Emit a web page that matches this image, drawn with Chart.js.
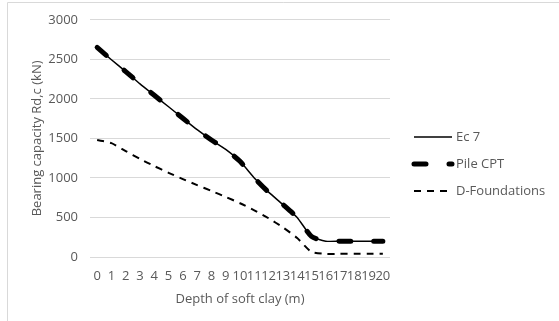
<!DOCTYPE html>
<html>
<head>
<meta charset="utf-8">
<script src="https://cdn.jsdelivr.net/npm/chart.js@4.4.0/dist/chart.umd.min.js"></script>
<style>
  html, body { margin: 0; padding: 0; background: #fff; }
  .chart-box { position: relative; width: 559px; height: 321px; }
</style>
</head>
<body>
<div class="chart-box"><canvas id="capacityChart"></canvas></div>
<script>
// depth of soft clay layer (m)
var depths = ['0', '1', '2', '3', '4', '5', '6', '7', '8', '9', '10',
  '11', '12', '13', '14', '15', '16', '17', '18', '19', '20'];

// bearing capacity Rd,c (kN)
var ec7 = [2650, 2495, 2345, 2190, 2045, 1900, 1755, 1610, 1480, 1360, 1210,
  1000, 820, 665, 500, 260, 200, 200, 200, 200, 200];
var pileCpt = [2650, 2495, 2345, 2190, 2045, 1900, 1755, 1610, 1480, 1360, 1210,
  1000, 820, 665, 500, 260, 200, 200, 200, 200, 200];
var dFoundations = [1480, 1440, 1340, 1240, 1150, 1065, 985, 910, 835, 760, 680,
  590, 490, 375, 240, 65, 40, 40, 40, 40, 40];

var yMin = 0;
var yMax = 3000;
var yStep = 500;

var textGray = '#595959';
var gridGray = '#d9d9d9';

Chart.defaults.font.family = "'Open Sans', sans-serif";
Chart.defaults.font.size = 13;
Chart.defaults.color = textGray;

// thin frame round the chart
var frame = {
  id: 'frame',
  beforeDraw: function (chart) {
    var ctx = chart.ctx;
    ctx.save();
    ctx.strokeStyle = gridGray;
    ctx.lineWidth = 1;
    ctx.beginPath();
    ctx.moveTo(7.5, chart.height);
    ctx.lineTo(7.5, 2.5);
    ctx.lineTo(chart.width, 2.5);
    ctx.stroke();
    ctx.restore();
  }
};

// legend to the right, line sample then label
var sideLegend = {
  id: 'sideLegend',
  afterDraw: function (chart) {
    var ctx = chart.ctx;
    var x0 = chart.chartArea.right + 24;
    chart.data.datasets.forEach(function (ds, i) {
      var y = 137 + i * 27;
      ctx.save();
      ctx.strokeStyle = ds.borderColor;
      ctx.lineWidth = ds.borderWidth;
      ctx.lineCap = ds.borderCapStyle || 'butt';
      ctx.setLineDash(ds.borderDash || []);
      ctx.beginPath();
      ctx.moveTo(x0, y);
      ctx.lineTo(x0 + 38, y);
      ctx.stroke();
      ctx.restore();
      ctx.save();
      ctx.fillStyle = textGray;
      ctx.font = "13px 'Open Sans'";
      ctx.textBaseline = 'middle';
      ctx.fillText(ds.label, x0 + 42, y);
      ctx.restore();
    });
  }
};

var config = {
  type: 'line',
  data: {
    labels: depths,
    datasets: [{
      label: 'Ec 7',
      data: ec7,
      borderColor: '#000',
      borderWidth: 1.5,
      pointRadius: 0,
      tension: 0.2
    }, {
      label: 'Pile CPT',
      data: pileCpt,
      borderColor: '#000',
      borderWidth: 5,
      borderDash: [12, 23],
      borderCapStyle: 'round',
      pointRadius: 0,
      tension: 0.2
    }, {
      label: 'D-Foundations',
      data: dFoundations,
      borderColor: '#000',
      borderWidth: 2,
      borderDash: [7, 6],
      pointRadius: 0,
      tension: 0.2
    }]
  },
  options: {
    responsive: true,
    maintainAspectRatio: false,
    animation: false,
    layout: {
      padding: { top: 17, right: 169, bottom: 0, left: 0 }
    },
    plugins: {
      legend: { display: false },
      tooltip: { enabled: false }
    },
    scales: {
      x: {
        offset: true,
        grid: { display: false },
        border: { display: false },
        ticks: { padding: 3, maxRotation: 0, autoSkip: false },
        title: {
          display: true,
          text: 'Depth of soft clay (m)',
          color: textGray,
          font: { size: 13 },
          padding: { top: 0, bottom: 14 }
        },
        afterFit: function (axis) { axis.height = 64; }
      },
      y: {
        min: yMin,
        max: yMax,
        ticks: {
          stepSize: yStep,
          padding: 12,
          callback: function (value) { return String(value); }
        },
        grid: { color: gridGray, lineWidth: 1, drawTicks: false },
        border: { display: false },
        title: {
          display: true,
          text: 'Bearing capacity Rd,c (kN)',
          color: textGray,
          font: { size: 13 },
          padding: { top: 29, bottom: 0 }
        },
        afterFit: function (axis) { axis.width = 90; }
      }
    }
  },
  plugins: [frame, sideLegend]
};

var myChart = new Chart(document.getElementById('capacityChart'), config);
</script>
</body>
</html>
